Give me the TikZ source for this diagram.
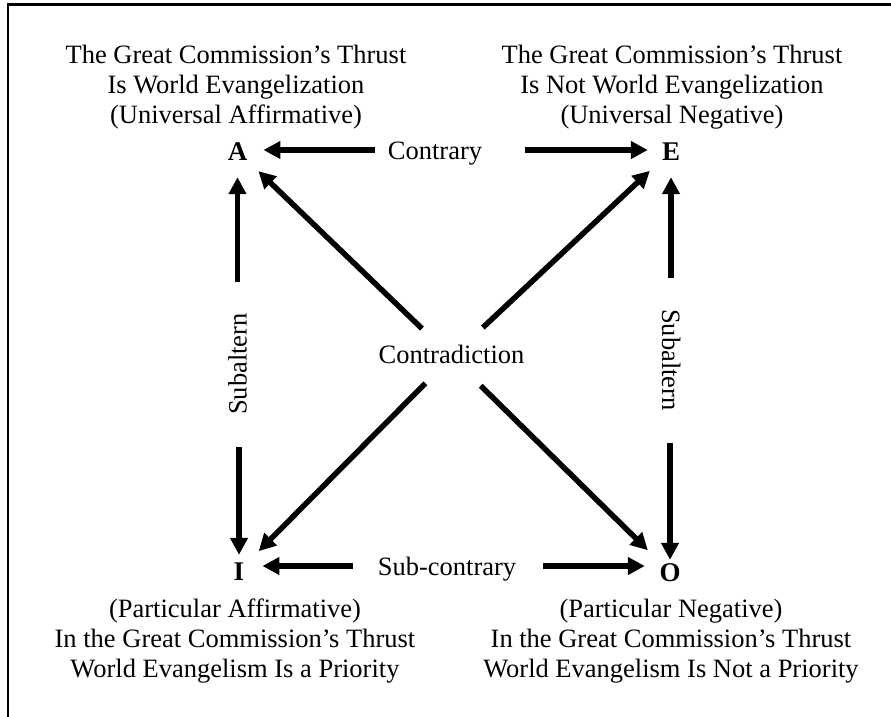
\documentclass[tikz,border=0pt]{standalone}
\usepackage{fontspec}
\setmainfont{Liberation Serif}
\usetikzlibrary{arrows.meta}
\begin{document}
\begin{tikzpicture}[x=1pt,y=-1pt,
  txt/.style={font=\fontsize{26.5}{30}\selectfont, inner sep=0pt, align=center, anchor=base},
  lbl/.style={font=\fontsize{26.5}{30}\selectfont, inner sep=0pt, text height=18pt, text depth=0pt, anchor=base},
  letter/.style={font=\fontsize{27}{30}\selectfont\bfseries, inner sep=0pt, text height=18pt, text depth=0pt, anchor=base},
  arr/.style={line width=5.5pt, -{Triangle[length=17pt,width=17pt]}},
  frameline/.style={line width=2.5pt, line join=miter}]
\useasboundingbox (0,0) rectangle (891,717);
\draw[frameline] (8,717) -- (8,4.7) -- (891,4.7);

% text blocks (base anchor = baseline of the last line)
\node[txt] (tA) at (236,123.8) {The Great Commission’s Thrust\\Is World Evangelization\\(Universal Affirmative)};
\node[txt] (tE) at (672,123.8) {The Great Commission’s Thrust\\Is Not World Evangelization\\(Universal Negative)};
\node[txt] (tI) at (235,677.5) {(Particular Affirmative)\\In the Great Commission’s Thrust\\World Evangelism Is a Priority};
\node[txt] (tO) at (671,677.5) {(Particular Negative)\\In the Great Commission’s Thrust\\World Evangelism Is Not a Priority};

% letters
\node[letter] (A) at (237.5,160) {A};
\node[letter] (E) at (671,160) {E};
\node[letter] (I) at (239,580) {I};
\node[letter] (O) at (670,581) {O};

% labels
\node[lbl] (contr) at (435,159) {Contrary};
\node[lbl] (subc) at (447,575) {Sub-contrary};
\node[lbl, text height=12pt] (contra) at (451.5,363) {Contradiction};
\node[lbl, anchor=center, rotate=90] (subL) at (237.5,364) {Subaltern};
\node[lbl, anchor=center, rotate=-90] (subR) at (671,360) {Subaltern};

% horizontal arrows
\draw[arr, shorten <=13pt, shorten >=16pt] (contr.west) -- (contr.west -| A.east);
\draw[arr, shorten <=43pt, shorten >=14pt] (contr.east) -- (contr.east -| E.west);
\draw[arr, shorten <=25pt, shorten >=18pt] (subc.west) -- (subc.west -| I.east);
\draw[arr, shorten <=27pt, shorten >=14.5pt] (subc.east) -- (subc.east -| O.west);

% vertical arrows
\draw[arr, shorten <=31pt, shorten >=17pt] (subL.east -| A.south) -- (A.south);
\draw[arr, shorten <=32pt, shorten >=7pt] (subL.west -| I.north) -- (I.north);
\draw[arr, shorten <=31pt, shorten >=17pt] (subR.west -| E.south) -- (E.south);
\draw[arr, shorten <=32pt, shorten >=3pt] (subR.east -| O.north) -- (O.north);

% diagonal arrows
\draw[arr, shorten <=41pt, shorten >=29pt] (contra.center) -- (A.center);
\draw[arr, shorten <=43pt, shorten >=29pt] (contra.center) -- (E.center);
\draw[arr, shorten <=37pt, shorten >=28pt] (contra.center) -- (I.center);
\draw[arr, shorten <=41pt, shorten >=31pt] (contra.center) -- (O.center);
\end{tikzpicture}
\end{document}
